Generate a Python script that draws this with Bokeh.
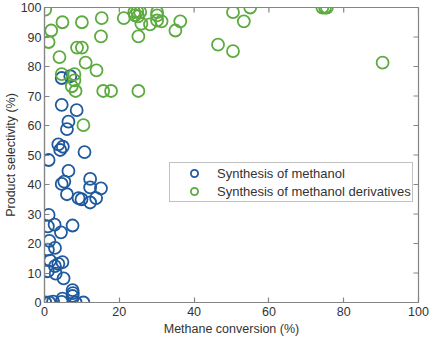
import math
from bokeh.plotting import figure
from bokeh.models import FixedTicker, Range1d, Legend, LegendItem
from bokeh.embed import file_html
from bokeh.resources import INLINE

methanol_x = [4.6, 6.9, 4.6, 8.6, 6.4, 6.0, 3.7, 4.9, 4.2, 10.7, 1.1, 6.4, 4.6, 5.3, 6.0,
              12.2, 12.2, 15.1, 9.1, 9.9, 12.2, 13.8, 1.1, 0.9, 2.7, 7.5, 4.4, 1.3, 0.9, 2.8,
              1.5, 4.8, 3.7, 2.8, 0.9, 3.0, 5.1, 7.5, 7.6, 7.5, 4.8, 0.2, 1.3, 2.3, 4.6, 8.3, 10.4]
methanol_y = [76.1, 76.7, 67.0, 65.2, 61.3, 58.8, 53.6, 52.8, 51.7, 51.0, 48.3, 44.6, 40.2, 41.0, 36.7,
              41.9, 39.0, 38.7, 35.4, 35.0, 33.9, 35.4, 29.7, 25.8, 26.4, 26.1, 23.8, 20.9, 17.9, 18.5,
              14.2, 13.7, 13.1, 12.3, 10.6, 9.8, 8.2, 4.2, 3.2, 2.2, 1.3, 0.0, 0.0, 0.3, 0.2, 0.0, 0.0]

deriv_x = [0.2, 1.8, 1.1, 4.8, 10.0, 15.3, 15.1, 21.2, 8.7, 10.0, 4.0, 11.0, 13.9, 4.6, 8.0,
           8.0, 7.3, 8.3, 15.7, 17.8, 25.1, 10.4, 25.1, 24.0, 24.8, 25.6, 24.2, 25.0, 25.9, 28.2,
           30.1, 30.1, 30.1, 31.3, 36.3, 35.0, 46.4, 50.4, 50.4, 53.3, 55.0, 74.3, 75.0, 75.5, 90.4]
deriv_y = [99.3, 92.2, 88.3, 95.0, 95.0, 96.4, 90.2, 96.4, 86.4, 86.4, 83.2, 81.3, 78.7, 77.4, 77.4,
           75.3, 73.3, 71.7, 71.7, 71.7, 71.7, 60.1, 90.2, 98.4, 98.6, 98.4, 97.3, 97.0, 94.5, 94.3,
           98.4, 97.3, 95.6, 95.3, 95.3, 92.2, 87.4, 98.4, 85.2, 95.3, 100.0, 100.0, 100.0, 100.0, 81.3]

x_ticks = [0, 20, 40, 60, 80, 100]
y_ticks = [0, 10, 20, 30, 40, 50, 60, 70, 80, 90, 100]
x_max = 100
y_max = 100

BLUE = "#1f5a9e"
GREEN = "#5cab3f"
AXIS = "#858585"
TEXT = "#333333"
FONT = "Liberation Sans"

p = figure(width=432, height=338, output_backend="svg", toolbar_location=None,
           x_range=Range1d(0, x_max), y_range=Range1d(0, y_max),
           min_border_left=43, min_border_right=14, min_border_top=7, min_border_bottom=35)
p.xgrid.visible = False
p.ygrid.visible = False
p.outline_line_color = AXIS
p.outline_line_width = 1.2
p.background_fill_color = "white"
p.border_fill_color = "white"

# mirrored inward ticks on top and right (outer half clipped by the frame)
p.scatter([x_max] * len(y_ticks), y_ticks, marker="dash", size=10,
          line_color=AXIS, line_width=1.2)
p.scatter(x_ticks, [y_max] * len(x_ticks), marker="dash", size=10, angle=math.pi / 2,
          line_color=AXIS, line_width=1.2)

r1 = p.scatter(methanol_x, methanol_y, size=12, fill_color=None, line_color=BLUE, line_width=1.8)
r2 = p.scatter(deriv_x, deriv_y, size=12, fill_color=None, line_color=GREEN, line_width=1.8)

for ax in (p.xaxis[0], p.yaxis[0]):
    ax.axis_line_color = AXIS
    ax.axis_line_width = 1.2
    ax.major_tick_line_color = AXIS
    ax.major_tick_line_width = 1.2
    ax.major_tick_in = 5
    ax.major_tick_out = 0
    ax.minor_tick_line_color = None
    ax.major_label_text_font = FONT
    ax.major_label_text_color = TEXT
    ax.major_label_text_font_size = "12.5px"
    ax.major_label_standoff = 3
    ax.axis_label_text_font = FONT
    ax.axis_label_text_font_size = "12.5px"
    ax.axis_label_text_font_style = "normal"
    ax.axis_label_text_color = TEXT
    ax.axis_label_standoff = 0

p.xaxis.major_label_standoff = 4
p.xaxis.axis_label_standoff = 3
p.xaxis.ticker = FixedTicker(ticks=x_ticks)
p.yaxis.ticker = FixedTicker(ticks=y_ticks)
p.xaxis.axis_label = "Methane conversion (%)"
p.yaxis.axis_label = "Product selectivity (%)"

legend = Legend(items=[LegendItem(label="Synthesis of methanol", renderers=[r1]),
                       LegendItem(label="Synthesis of methanol derivatives", renderers=[r2])],
                location=(125, 100))
legend.label_text_font = FONT
legend.label_text_font_size = "13px"
legend.label_text_color = TEXT
legend.border_line_color = AXIS
legend.border_line_width = 1
legend.background_fill_color = "white"
legend.padding = 1
legend.margin = 0
legend.spacing = 0
legend.glyph_width = 46
legend.glyph_height = 18
legend.label_height = 18
legend.label_standoff = 0
p.add_layout(legend, "center")

open("out.html", "w").write(file_html(p, INLINE))
